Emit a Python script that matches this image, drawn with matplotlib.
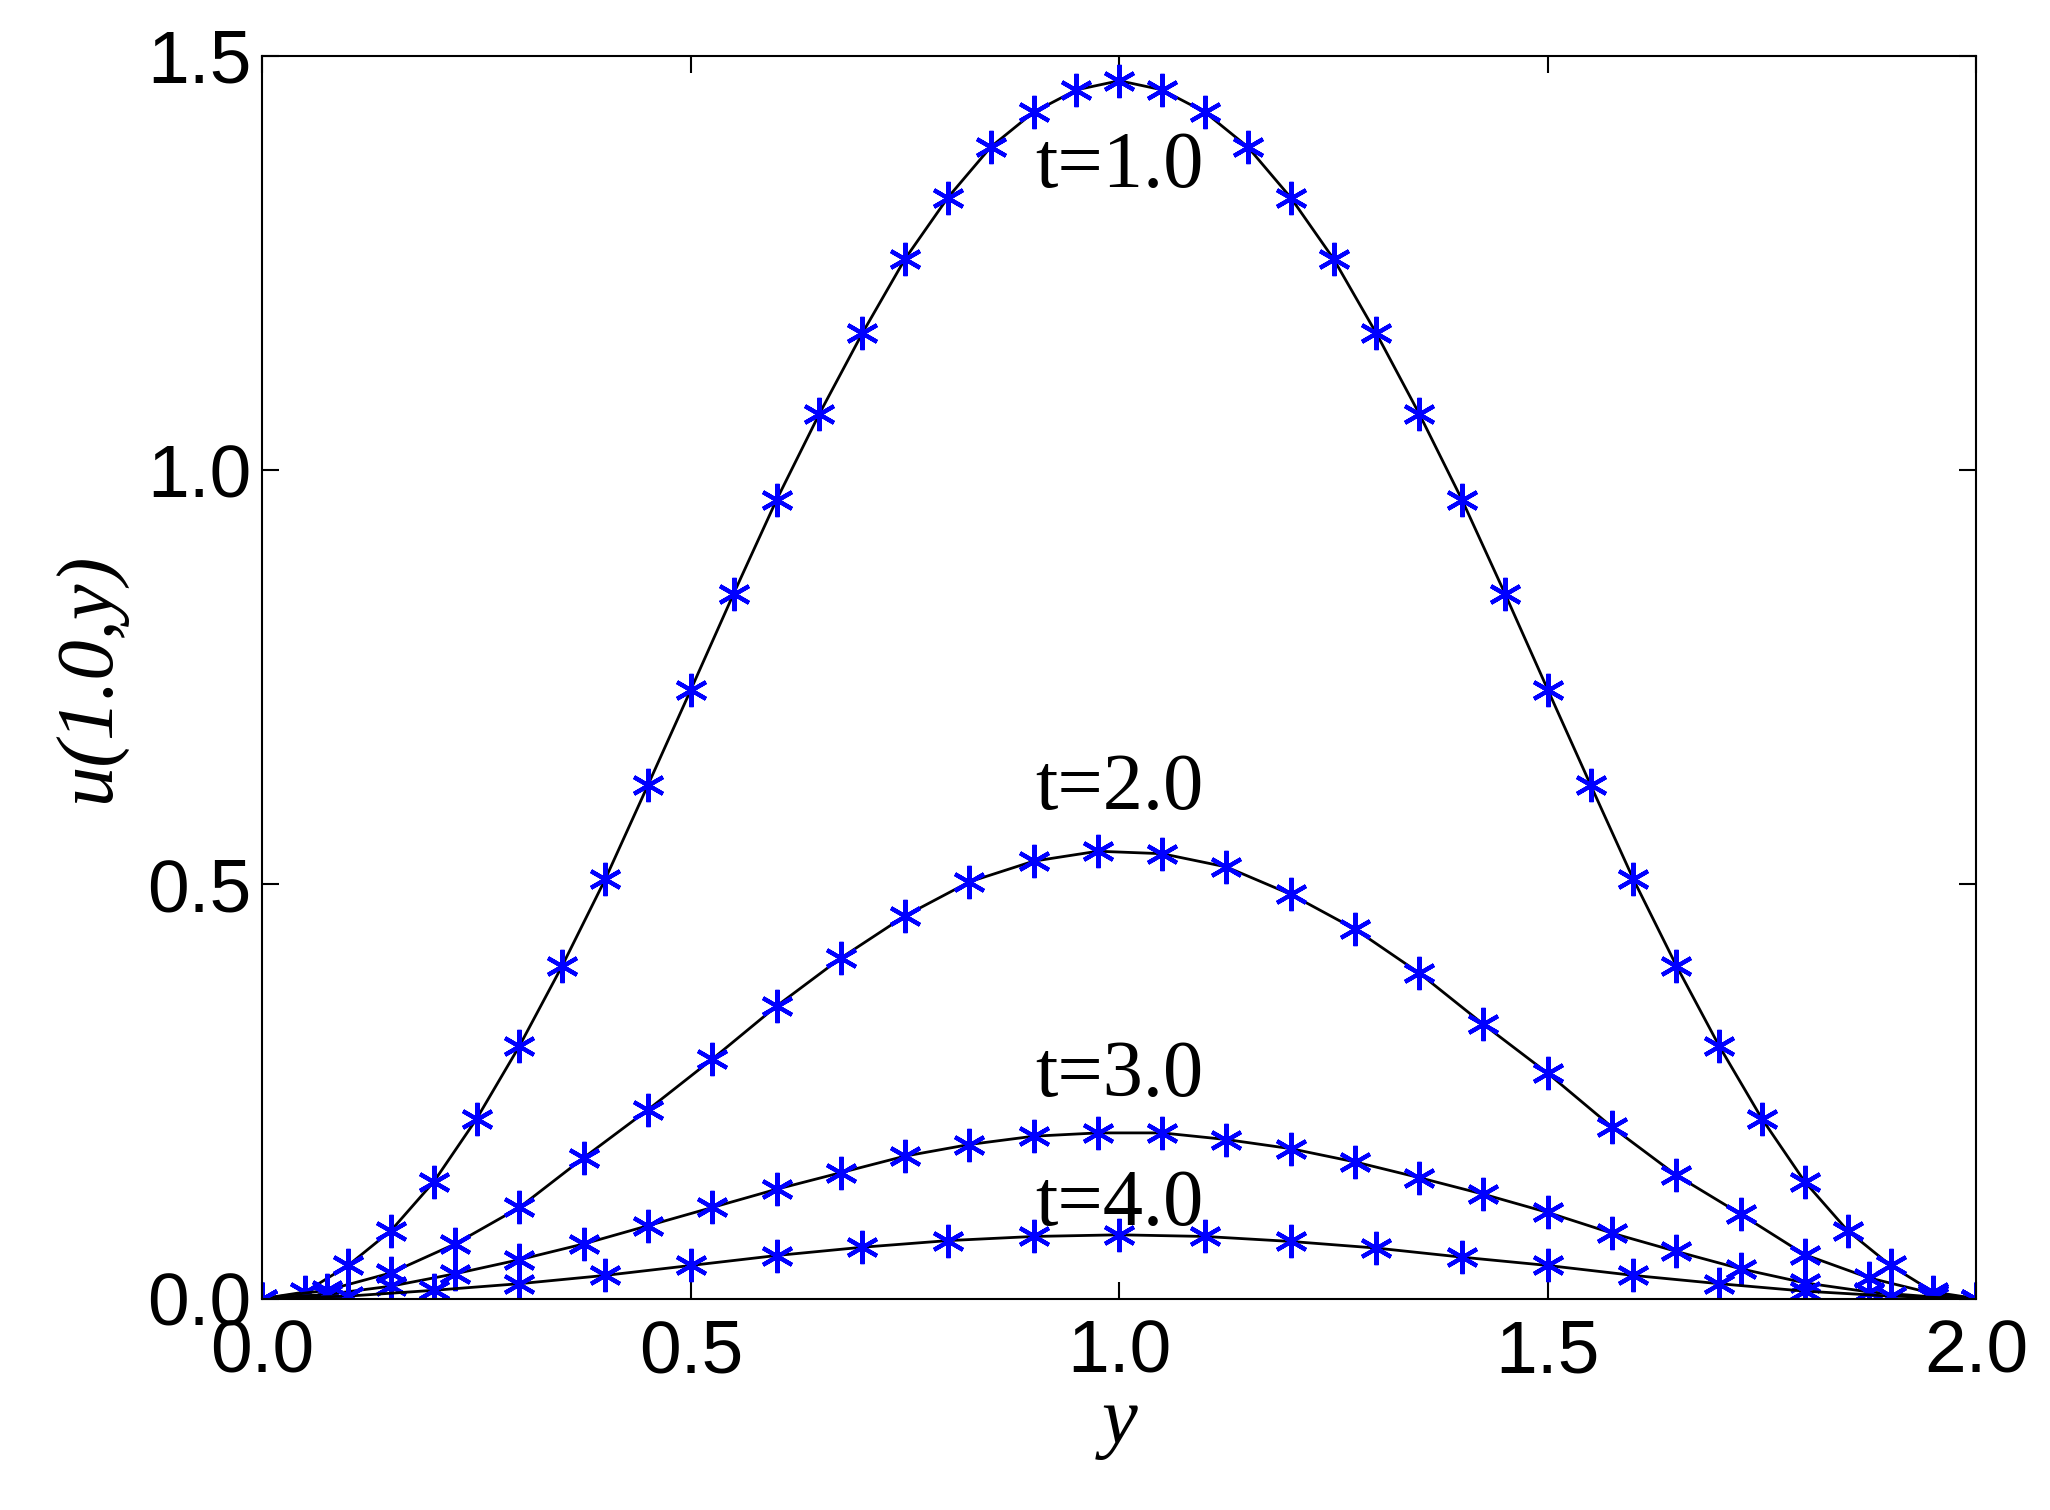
import matplotlib
matplotlib.use("Agg")
import matplotlib.pyplot as plt

# t=1.0, sampled every 0.05
x1 = [0.0, 0.05, 0.1, 0.15, 0.2, 0.25, 0.3, 0.35, 0.4, 0.45, 0.5, 0.55, 0.6, 0.65, 0.7,
      0.75, 0.8, 0.85, 0.9, 0.95, 1.0, 1.05, 1.1, 1.15, 1.2, 1.25, 1.3, 1.35, 1.4, 1.45,
      1.5, 1.55, 1.6, 1.65, 1.7, 1.75, 1.8, 1.85, 1.9, 1.95, 2.0]
u1 = [0.0, 0.008, 0.04, 0.082, 0.141, 0.217, 0.305, 0.402, 0.506, 0.62, 0.735, 0.851,
      0.964, 1.068, 1.165, 1.255, 1.329, 1.39, 1.432, 1.459, 1.47, 1.459, 1.432, 1.39,
      1.329, 1.255, 1.165, 1.068, 0.964, 0.851, 0.735, 0.62, 0.506, 0.402, 0.305, 0.217,
      0.141, 0.082, 0.04, 0.008, 0.0]

# t=2.0 and t=3.0, sampled every 0.075
x23 = [0.0, 0.075, 0.15, 0.225, 0.3, 0.375, 0.45, 0.525, 0.6, 0.675, 0.75, 0.825, 0.9,
       0.975, 1.05, 1.125, 1.2, 1.275, 1.35, 1.425, 1.5, 1.575, 1.65, 1.725, 1.8, 1.875,
       1.95, 2.0]
u2 = [0.0, 0.01, 0.031, 0.066, 0.11, 0.17, 0.228, 0.289, 0.353, 0.411, 0.462, 0.503,
      0.528, 0.54, 0.537, 0.521, 0.488, 0.446, 0.393, 0.331, 0.272, 0.207, 0.149, 0.102,
      0.053, 0.025, 0.006, 0.0]
u3 = [0.0, 0.005, 0.015, 0.03, 0.047, 0.066, 0.088, 0.11, 0.132, 0.152, 0.172, 0.186,
      0.196, 0.2, 0.2, 0.192, 0.181, 0.165, 0.146, 0.126, 0.104, 0.079, 0.057, 0.036,
      0.019, 0.008, 0.002, 0.0]

# t=4.0, sampled every 0.1
x4 = [0.0, 0.1, 0.2, 0.3, 0.4, 0.5, 0.6, 0.7, 0.8, 0.9, 1.0, 1.1, 1.2, 1.3, 1.4, 1.5,
      1.6, 1.7, 1.8, 1.9, 2.0]
u4 = [0.0, 0.003, 0.01, 0.018, 0.028, 0.04, 0.052, 0.062, 0.07, 0.075, 0.077, 0.075,
      0.069, 0.061, 0.05, 0.04, 0.028, 0.018, 0.009, 0.003, 0.0]

labels = ["t=1.0", "t=2.0", "t=3.0", "t=4.0"]
label_pos = [(1.0, 1.365), (1.0, 0.615), (1.0, 0.268), (1.0, 0.112)]

fig = plt.figure(figsize=(20.5, 15.1), dpi=100)
ax = fig.add_axes([0.128, 0.14, 0.836, 0.823])

for xs, us in [(x1, u1), (x23, u2), (x23, u3), (x4, u4)]:
    ax.plot(xs, us, color="black", linewidth=2)
    ax.plot(xs, us, linestyle="none", marker=(6, 2, 0), color="#0000ff",
            markersize=24, markeredgewidth=3)

for lab, (lx, ly) in zip(labels, label_pos):
    ax.text(lx, ly, lab, ha="center", va="center", fontsize=58,
            family="Liberation Serif")

ax.set_xlim(0, 2.0)
ax.set_ylim(0, 1.5)
ax.set_xticks([0.0, 0.5, 1.0, 1.5, 2.0])
ax.set_yticks([0.0, 0.5, 1.0, 1.5])
ax.set_xticklabels(["0.0", "0.5", "1.0", "1.5", "2.0"])
ax.set_yticklabels(["0.0", "0.5", "1.0", "1.5"])
ax.tick_params(direction="in", top=True, right=True, length=12, width=1.5,
               labelsize=54)
ax.tick_params(axis="x", pad=14)
ax.tick_params(axis="y", pad=8)
for lbl in ax.get_xticklabels() + ax.get_yticklabels():
    lbl.set_family("Liberation Sans")
for s in ax.spines.values():
    s.set_linewidth(1.5)

ax.set_xlabel("y", fontsize=58, family="Liberation Serif", style="italic", labelpad=0)
ax.set_ylabel("u(1.0,y)", fontsize=58, family="Liberation Serif", style="italic", labelpad=14)

fig.savefig("out.png", dpi=100)
